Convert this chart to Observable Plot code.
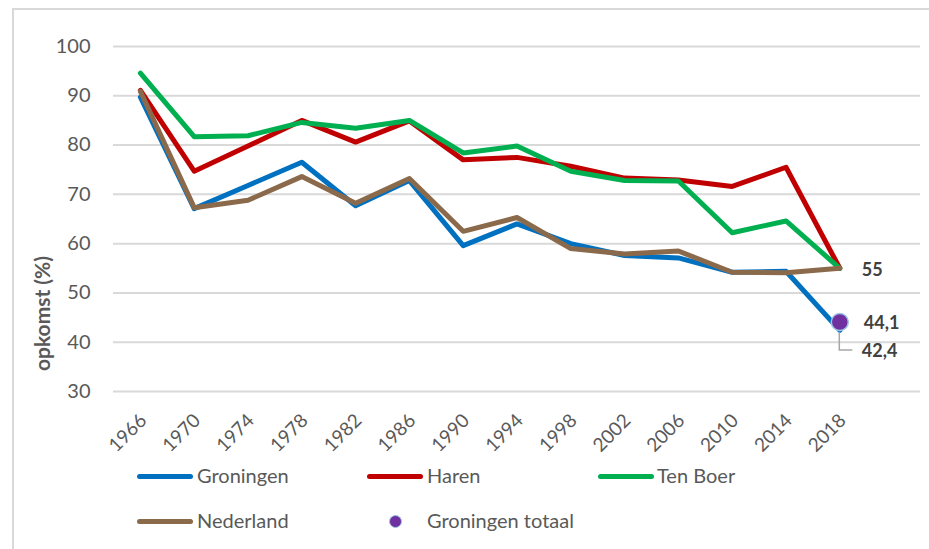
<!DOCTYPE html>
<html>
<head>
<meta charset="utf-8">
<script src="https://cdn.jsdelivr.net/npm/d3@7"></script>
<script src="https://cdn.jsdelivr.net/npm/@observablehq/plot@0.6"></script>
<style>
  html, body { margin: 0; padding: 0; background: #fff; }
  #wrap { position: relative; width: 929px; height: 549px; overflow: hidden; font-family: Lato, "Open Sans", sans-serif; }
  #frame { position: absolute; left: 12px; top: 8px; width: 2000px; height: 2000px; border-left: 2px solid #d9d9d9; border-top: 2px solid #d9d9d9; }
  #chart { position: absolute; left: 0; top: 0; }
  .sw { position: absolute; height: 5px; border-radius: 2.5px; }
  .lt { position: absolute; font-size: 20px; line-height: 24px; color: #595959; white-space: nowrap; }
  .ld { position: absolute; width: 11px; height: 11px; border-radius: 50%; }
</style>
</head>
<body>
<div id="wrap"><div id="frame"></div><div id="chart"></div></div>
<script>
const years = [1966, 1970, 1974, 1978, 1982, 1986, 1990, 1994, 1998, 2002, 2006, 2010, 2014, 2018];
const groningen = [89.7, 67.1, 71.8, 76.5, 67.7, 72.8, 59.6, 64.0, 60.0, 57.6, 57.1, 54.2, 54.4, 42.4];
const haren     = [91.1, 74.7, 79.8, 85.0, 80.6, 84.9, 77.0, 77.5, 75.7, 73.3, 72.9, 71.6, 75.5, 55.0];
const tenBoer   = [94.6, 81.7, 81.9, 84.6, 83.4, 85.0, 78.4, 79.8, 74.7, 72.8, 72.7, 62.2, 64.6, 55.0];
const nederland = [90.9, 67.3, 68.8, 73.6, 68.2, 73.2, 62.5, 65.3, 59.0, 57.9, 58.5, 54.2, 54.1, 55.0];
const groningenTotaalYear = 2018;
const groningenTotaal = 44.1;
const seriesNames = ["Groningen", "Haren", "Ten Boer", "Nederland"];
const seriesColors = ["#0070C0", "#C00000", "#00B050", "#8B6A4B"];
const dotName = "Groningen totaal";
const yTicks = [30, 40, 50, 60, 70, 80, 90, 100];
const yLabel = "opkomst (%)";

const seriesValues = [groningen, haren, tenBoer, nederland];
const table = seriesNames.flatMap((name, s) =>
  years.map((yr, i) => ({year: yr, value: seriesValues[s][i], series: name})));

const fmt = v => String(v).replace(".", ",");
const last = years.length - 1;

function leader(...args) {
  const scales = args.find(a => a && typeof a.x === "function" && typeof a.y === "function");
  const x = scales.x(years[last]);
  const y = scales.y(groningen[last]);
  const p = document.createElementNS("http://www.w3.org/2000/svg", "path");
  p.setAttribute("d", `M${x},${y + 2}V${y + 20}H${x + 13}`);
  p.setAttribute("fill", "none");
  p.setAttribute("stroke", "#a6a6a6");
  p.setAttribute("stroke-width", "1.5");
  return p;
}

const plot = Plot.plot({
  width: 929,
  height: 460,
  marginLeft: 113,
  marginRight: 9,
  marginTop: 46,
  marginBottom: 69,
  x: {domain: [1964, 2024]},
  y: {domain: [30, 100]},
  color: {domain: seriesNames, range: seriesColors},
  style: {fontFamily: "Lato, 'Open Sans', sans-serif", color: "#595959", background: "transparent", overflow: "visible"},
  marks: [
    Plot.ruleY(yTicks, {stroke: "#d9d9d9", strokeWidth: 2}),
    Plot.axisY({ticks: yTicks, tickSize: 0, tickPadding: 23, fontSize: 20, label: null, fill: "#595959"}),
    Plot.axisX({ticks: years, tickSize: 0, tickRotate: -45, tickPadding: 26, dx: 3, fontSize: 19, tickFormat: d => String(d), label: null, fill: "#595959"}),
    Plot.text([yLabel], {frameAnchor: "left", dx: -70, dy: 94.5, rotate: -90, text: d => d, fontSize: 21, fontWeight: "bold", fill: "#595959", textAnchor: "middle"}),
    Plot.line(table, {x: "year", y: "value", z: "series", stroke: "series", strokeWidth: 5, strokeLinejoin: "round", strokeLinecap: "round"}),
    leader,
    Plot.dot([{year: groningenTotaalYear, value: groningenTotaal}], {x: "year", y: "value", r: 8.5, fill: "#7030A0", stroke: "#9DC3E6", strokeWidth: 1.5}),
    Plot.text([{year: years[last], value: haren[last]}], {x: "year", y: "value", text: d => fmt(d.value), dx: 22, dy: 2, textAnchor: "start", fontSize: 18, fontWeight: "bold", fill: "#404040"}),
    Plot.text([{year: groningenTotaalYear, value: groningenTotaal}], {x: "year", y: "value", text: d => fmt(d.value), dx: 24, dy: 1, textAnchor: "start", fontSize: 18, fontWeight: "bold", fill: "#404040"}),
    Plot.text([{year: years[last], value: groningen[last]}], {x: "year", y: "value", text: d => fmt(d.value), dx: 22, dy: 21, textAnchor: "start", fontSize: 18, fontWeight: "bold", fill: "#404040"})
  ]
});
document.getElementById("chart").appendChild(plot);

// legend
const wrap = document.getElementById("wrap");
const legendItems = [
  {name: seriesNames[0], color: seriesColors[0], sx: 137, tx: 197, row: 0},
  {name: seriesNames[1], color: seriesColors[1], sx: 367, tx: 427, row: 0},
  {name: seriesNames[2], color: seriesColors[2], sx: 598, tx: 657, row: 0},
  {name: seriesNames[3], color: seriesColors[3], sx: 137, tx: 197, row: 1}
];
const rowY = [476, 521];
for (const it of legendItems) {
  const sw = document.createElement("div");
  sw.className = "sw";
  sw.style.left = it.sx + "px";
  sw.style.width = "56px";
  sw.style.top = (rowY[it.row] - 2.5) + "px";
  sw.style.background = it.color;
  wrap.appendChild(sw);
  const t = document.createElement("div");
  t.className = "lt";
  t.textContent = it.name;
  t.style.left = it.tx + "px";
  t.style.top = (rowY[it.row] - 13) + "px";
  wrap.appendChild(t);
}
const ld = document.createElement("div");
ld.className = "ld";
ld.style.left = (395 - 6.5) + "px";
ld.style.top = (rowY[1] - 6.5) + "px";
ld.style.background = "#7030A0";
ld.style.border = "1px solid #9DC3E6";
wrap.appendChild(ld);
const lt = document.createElement("div");
lt.className = "lt";
lt.textContent = dotName;
lt.style.left = "427px";
lt.style.top = (rowY[1] - 13) + "px";
wrap.appendChild(lt);
</script>
</body>
</html>
